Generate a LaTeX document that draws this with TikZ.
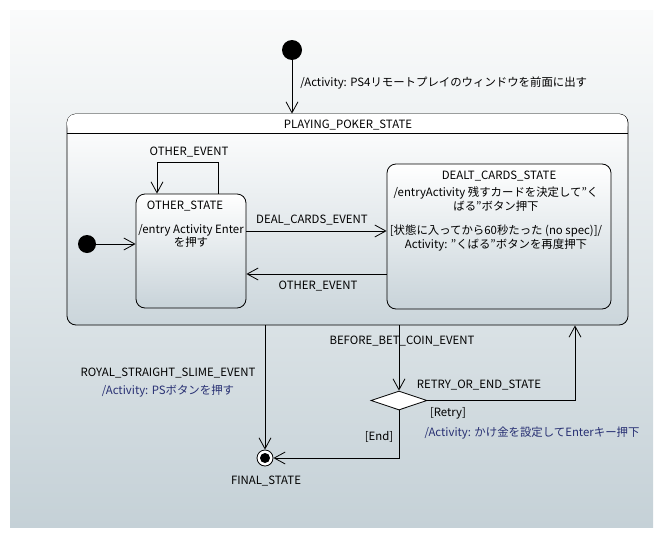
\documentclass[tikz,border=0pt]{standalone}
\usepackage{fontspec}
\setmainfont{Noto Sans CJK JP}
\usetikzlibrary{arrows.meta,shapes.geometric}
\definecolor{bgtop}{RGB}{250,251,251}
\definecolor{bgbottom}{RGB}{197,209,215}
\definecolor{statebottom}{RGB}{200,211,217}
\definecolor{actblue}{RGB}{40,48,115}
\tikzset{
  arr/.style={-{Straight Barb[length=11pt,width=12pt]}},
  statebox/.style={draw, rounded corners=9pt, top color=white, bottom color=statebottom},
  startdot/.style={circle, fill=black, inner sep=0pt},
  txt/.style={inner sep=1pt, font=\fontsize{11.4}{13.8}\selectfont},
  act/.style={txt, text=actblue}
}
\begin{document}
\begin{tikzpicture}[x=1pt, y=-1pt, line width=0.8pt]
  \useasboundingbox (0,0) rectangle (663,538);
  \fill[top color=bgtop, bottom color=bgbottom] (10,10) rectangle (653,527);

  % outer state
  \node[draw, rounded corners=9pt, top color=white, bottom color=statebottom!95!white,
        minimum width=561pt, minimum height=211pt] (playing) at (347.5,219.5) {};
  \fill[white, rounded corners=8pt] ([shift={(0.6pt,-0.6pt)}]playing.north west) rectangle (627.4,133);
  \draw (67,133) -- (628,133);
  \node[txt] (playingtitle) at (348,125) {PLAYING\_POKER\_STATE};

  \node[startdot, minimum size=20pt] (init) at (292,50) {};
  \draw[arr] (init) -- (init |- playing.north);
  \node[txt, anchor=west] (initlabel) at (299,83) {/Activity: PS4リモートプレイのウィンドウを前面に出す};

  % inner states
  \node[statebox, minimum width=110pt, minimum height=114pt] (other) at (191,251) {};
  \node[txt] (othertitle) at (185,206) {OTHER\_STATE};
  \node[txt, align=center] (otherbody) at (191,236) {/entry Activity Enter\\を押す};

  \node[statebox, minimum width=224pt, minimum height=145pt] (dealt) at (499,236.5) {};
  \node[txt] (dealttitle) at (499,176) {DEALT\_CARDS\_STATE};
  \node[txt, align=center] (dealtentry) at (496,199) {/entryActivity 残すカードを決定して"く\\ばる"ボタン押下};
  \node[txt, align=center] (dealttimer) at (496,238) {[状態に入ってから60秒たった (no spec)]/\\Activity: "くばる"ボタンを再度押下};

  \node[startdot, minimum size=18pt] (init2) at (87,244) {};
  \draw[arr] (init2) -- (init2 -| other.west);

  \draw[arr] ([xshift=27pt]other.north) -- ++(0,-31) -| ([xshift=-34pt]other.north);
  \node[txt] (looplabel) at (189,152) {OTHER\_EVENT};

  \draw[arr] ([yshift=20pt]other.east) -- ([yshift=5.5pt]dealt.west);
  \node[txt] (deallabel) at (312,220) {DEAL\_CARDS\_EVENT};
  \draw[arr] ([yshift=-37.5pt]dealt.west) -- ([yshift=-23pt]other.east);
  \node[txt] (backlabel) at (318,286) {OTHER\_EVENT};

  % leaving the outer state
  \node[circle, draw, fill=white, minimum size=16pt, inner sep=0pt] (final) at (265,458) {};
  \node[startdot, minimum size=10pt] (finaldot) at (final.center) {};
  \node[txt] (finallabel) at (266,481) {FINAL\_STATE};

  \node[diamond, draw, fill=white, aspect=2.95, inner sep=0pt,
        minimum width=56pt, minimum height=19pt] (choice) at (399,400.5) {};
  \node[txt] (choicelabel) at (479,385) {RETRY\_OR\_END\_STATE};

  \draw[arr] ([xshift=-82.5pt]playing.south) -- (final.north);
  \node[txt] (royallabel) at (168,373) {ROYAL\_STRAIGHT\_SLIME\_EVENT};
  \node[act] (royalact) at (168,391) {/Activity: PSボタンを押す};

  \draw[arr] ([xshift=51.5pt]playing.south) -- (choice.north);
  \node[txt] (betlabel) at (402,341) {BEFORE\_BET\_COIN\_EVENT};

  \draw[arr] (choice.east) -| ([xshift=227.5pt]playing.south);
  \node[txt] (retrylabel) at (448,413) {[Retry]};
  \node[act] (retryact) at (532,433) {/Activity: かけ金を設定してEnterキー押下};

  \draw[arr] (choice.south) |- (final.east);
  \node[txt] (endlabel) at (379,437) {[End]};
\end{tikzpicture}
\end{document}
